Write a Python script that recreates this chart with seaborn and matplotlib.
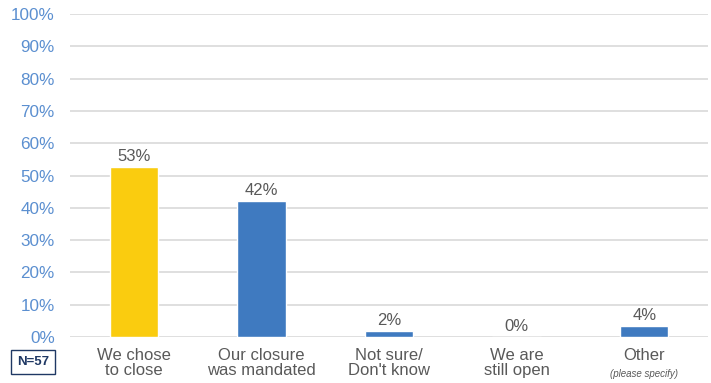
import matplotlib
matplotlib.use("Agg")
import matplotlib.pyplot as plt
import matplotlib.transforms as mtransforms
import seaborn as sns
import pandas as pd

categories = ["We chose\nto close", "Our closure\nwas mandated", "Not sure/\nDon't know", "We are\nstill open", "Other"]
sublabels = ["", "", "", "", "(please specify)"]
values = [52.6, 42.1, 1.8, 0.0, 3.5]
value_labels = ["53%", "42%", "2%", "0%", "4%"]
colors = ["#FACC0F", "#3F7AC0", "#3F7AC0", "#3F7AC0", "#3F7AC0"]
yticks = list(range(0, 101, 10))
sample_label = "N=57"

sns.set_theme(style="white")
plt.rcParams['font.family'] = ['Liberation Sans', 'DejaVu Sans']

fig = plt.figure(figsize=(7.11, 3.83), dpi=100)
ax = fig.add_axes([70/711, 1-337/383, 638/711, (337-14)/383])

df = pd.DataFrame({"cat": categories, "val": values})
sns.barplot(data=df, x="cat", y="val", hue="cat", palette=colors, legend=False,
            width=0.38, ax=ax, zorder=3, saturation=1)

ax.set_ylim(0, 100)
ax.set_xlim(-0.5, 4.5)
ax.set_yticks(yticks)
ax.set_yticklabels([f"{t}%" for t in yticks], color="#5B8FD0", fontsize=12.3)
ax.tick_params(axis="y", length=0, pad=11)
ax.set_xticks([])
ax.set_xlabel("")
ax.set_ylabel("")
ax.grid(axis="y", color="#D9D9D9", linewidth=1.2, zorder=0)
for s in ax.spines.values():
    s.set_visible(False)

for i, (v, lab) in enumerate(zip(values, value_labels)):
    ax.annotate(lab, (i, v), xytext=(0, 2), textcoords="offset points",
                ha="center", va="bottom", fontsize=12, color="#595959")

trans = mtransforms.blended_transform_factory(ax.transData, ax.transAxes)
for i, (c, sub) in enumerate(zip(categories, sublabels)):
    ax.text(i, -0.035, c, transform=trans, ha="center", va="top",
            fontsize=12, color="#595959", linespacing=0.95)
    if sub:
        ax.text(i, -0.1, sub, transform=trans, ha="center", va="top",
                fontsize=7, color="#595959", style="italic")

fig.text(33/711, 1-362/383, sample_label, ha="center", va="center", fontsize=9.5,
         fontweight="bold", color="#1F3864",
         bbox=dict(boxstyle="square,pad=0.45", facecolor="white", edgecolor="#1F3864", linewidth=1))

fig.savefig("out.png", dpi=100)
